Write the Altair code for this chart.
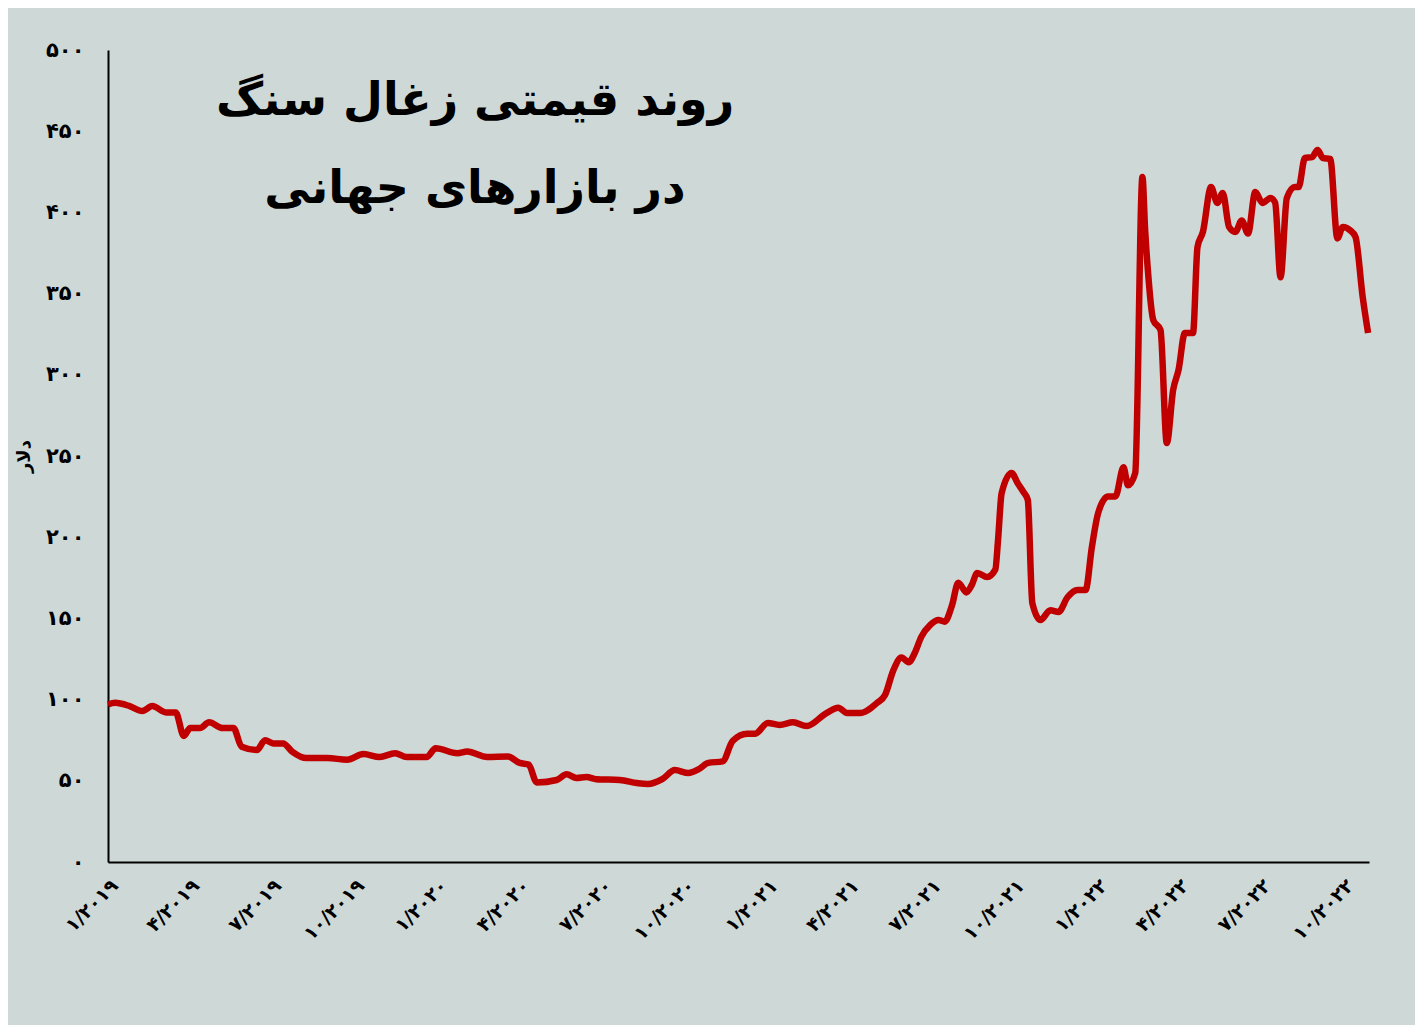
import altair as alt
import pandas as pd

# ---- data ----
dates = [
    "2019-01-01", "2019-01-09", "2019-01-25", "2019-02-08", "2019-02-19", "2019-03-07",
    "2019-03-17", "2019-03-26", "2019-04-02", "2019-04-13", "2019-04-23", "2019-05-08",
    "2019-05-20", "2019-05-29", "2019-06-15", "2019-06-24", "2019-07-03", "2019-07-14",
    "2019-07-24", "2019-08-09", "2019-09-01", "2019-09-23", "2019-10-11", "2019-10-29",
    "2019-11-15", "2019-11-28", "2019-12-20", "2019-12-30", "2020-01-23", "2020-02-03",
    "2020-02-25", "2020-03-19", "2020-04-01", "2020-04-11", "2020-04-20", "2020-05-12",
    "2020-05-23", "2020-06-03", "2020-06-14", "2020-06-25", "2020-07-21", "2020-08-09",
    "2020-08-21", "2020-09-06", "2020-09-20", "2020-10-05", "2020-10-16", "2020-10-27",
    "2020-11-12", "2020-11-23", "2020-12-09", "2020-12-18", "2021-01-01", "2021-01-14",
    "2021-01-29", "2021-02-13", "2021-03-07", "2021-03-20", "2021-03-30", "2021-04-13",
    "2021-05-02", "2021-05-11", "2021-05-20", "2021-05-29", "2021-06-06", "2021-06-13",
    "2021-06-20", "2021-06-30", "2021-07-09", "2021-07-16", "2021-07-24", "2021-07-31",
    "2021-08-09", "2021-08-15", "2021-08-21", "2021-09-01", "2021-09-10", "2021-09-13",
    "2021-09-17", "2021-09-28", "2021-10-05", "2021-10-11", "2021-10-16", "2021-10-21",
    "2021-10-30", "2021-11-10", "2021-11-19", "2021-11-29", "2021-12-10", "2021-12-19",
    "2021-12-26", "2022-01-02", "2022-01-13", "2022-01-21", "2022-01-30", "2022-02-04",
    "2022-02-12", "2022-02-20", "2022-02-23", "2022-02-26", "2022-03-04", "2022-03-12",
    "2022-03-19", "2022-03-26", "2022-04-01", "2022-04-08", "2022-04-17", "2022-04-22",
    "2022-04-28", "2022-05-07", "2022-05-14", "2022-05-20", "2022-05-27", "2022-06-03",
    "2022-06-10", "2022-06-17", "2022-06-25", "2022-07-03", "2022-07-12", "2022-07-17",
    "2022-07-23", "2022-07-30", "2022-08-08", "2022-08-12", "2022-08-19", "2022-08-27",
    "2022-09-02", "2022-09-08", "2022-09-16", "2022-09-24", "2022-09-30", "2022-10-08",
    "2022-10-14", "2022-10-22", "2022-10-28",
]
prices = [
    97, 98, 96, 93, 96, 92,
    92, 77.6, 82.5, 82.5, 86, 82.5,
    82.5, 71, 69, 75, 73, 73,
    68, 64, 64, 63, 66.5, 64.6,
    67, 64.6, 64.6, 70, 67, 68,
    64.6, 65, 61, 60, 49, 50.5,
    54, 51.7, 52.3, 51, 50.5, 48.6,
    48, 51, 56.6, 54.8, 57, 61,
    62, 74.5, 79, 79, 85.6, 84.4,
    86, 83.7, 91.7, 95, 91.7, 91.7,
    98, 103, 118, 126, 123, 129,
    138.6, 146, 149, 148, 158, 172,
    166, 170.6, 178, 175.5, 180, 198,
    227, 239.5, 233, 228, 223, 159.5,
    149, 155, 154, 163, 167.5, 167.5,
    194, 215, 225, 225, 243, 232,
    239.5, 421.8, 389, 364.5, 333.7, 327.6,
    258, 290.6, 303, 325.7, 325.7, 378.7,
    388, 415.6, 405.8, 412, 391, 388,
    395, 387, 412.6, 405.8, 408.9, 406,
    360, 409, 415.6, 415.6, 433.5, 434,
    438.4, 433.5, 433, 384, 391, 389,
    385, 348, 325.7,
]

x_tick_years = [2019, 2019, 2019, 2019, 2020, 2020, 2020, 2020,
                2021, 2021, 2021, 2021, 2022, 2022, 2022, 2022]
x_tick_months = [1, 4, 7, 10, 1, 4, 7, 10, 1, 4, 7, 10, 1, 4, 7, 10]
y_tick_values = [0, 50, 100, 150, 200, 250, 300, 350, 400, 450, 500]

title_lines = ["روند قیمتی زغال سنگ", "در بازارهای جهانی"]
y_title = "دلار"
persian_digits = "۰۱۲۳۴۵۶۷۸۹"

df = pd.DataFrame({"date": dates, "price": prices})


def to_persian(expr):
    for d in range(10):
        expr = f"replace({expr}, regexp('{d}', 'g'), '{persian_digits[d]}')"
    return expr


x_ticks = [alt.DateTime(year=y, month=m, date=1) for y, m in zip(x_tick_years, x_tick_months)]

FONT = "DejaVu Sans"

chart = (
    alt.Chart(df)
    .mark_line(color="#C00000", strokeWidth=6.5, interpolate="monotone")
    .encode(
        x=alt.X(
            "date:T",
            scale=alt.Scale(domain=[alt.DateTime(year=2019, month=1, date=1),
                                    alt.DateTime(year=2022, month=10, date=29)]),
            axis=alt.Axis(
                values=x_ticks,
                format="%-m/%Y",
                labelExpr=to_persian("datum.label"),
                labelAngle=-45,
                labelAlign="right",
                labelBaseline="top",
                labelPadding=14,
                labelFontSize=19,
                title=None,
                grid=False,
                ticks=False,
            ),
        ),
        y=alt.Y(
            "price:Q",
            scale=alt.Scale(domain=[0, 500], nice=False),
            axis=alt.Axis(
                values=y_tick_values,
                format="d",
                labelExpr=to_persian("datum.label"),
                labelPadding=24,
                labelFontSize=21,
                title=y_title,
                titlePadding=12,
                grid=False,
                ticks=False,
            ),
        ),
    )
    .properties(
        width=1261,
        height=812,
        autosize=alt.AutoSizeParams(type="none"),
        padding={"left": 100, "top": 42, "right": 46, "bottom": 163},
        background="#CED9D7",
        title=alt.TitleParams(
            text=title_lines,
            anchor="start",
            frame="group",
            align="center",
            baseline="top",
            dx=367,
            dy=178,
            font=FONT,
            fontSize=46,
            fontWeight="bold",
            lineHeight=88,
            color="black",
        ),
    )
    .configure_view(stroke=None)
    .configure_axis(
        domainColor="black",
        domainWidth=2,
        labelFont=FONT,
        labelFontWeight="bold",
        labelColor="black",
        titleFont=FONT,
        titleFontSize=18,
        titleFontWeight="bold",
        titleColor="black",
    )
)

chart.save("out.html", embed_options={"renderer": "svg", "actions": False})
